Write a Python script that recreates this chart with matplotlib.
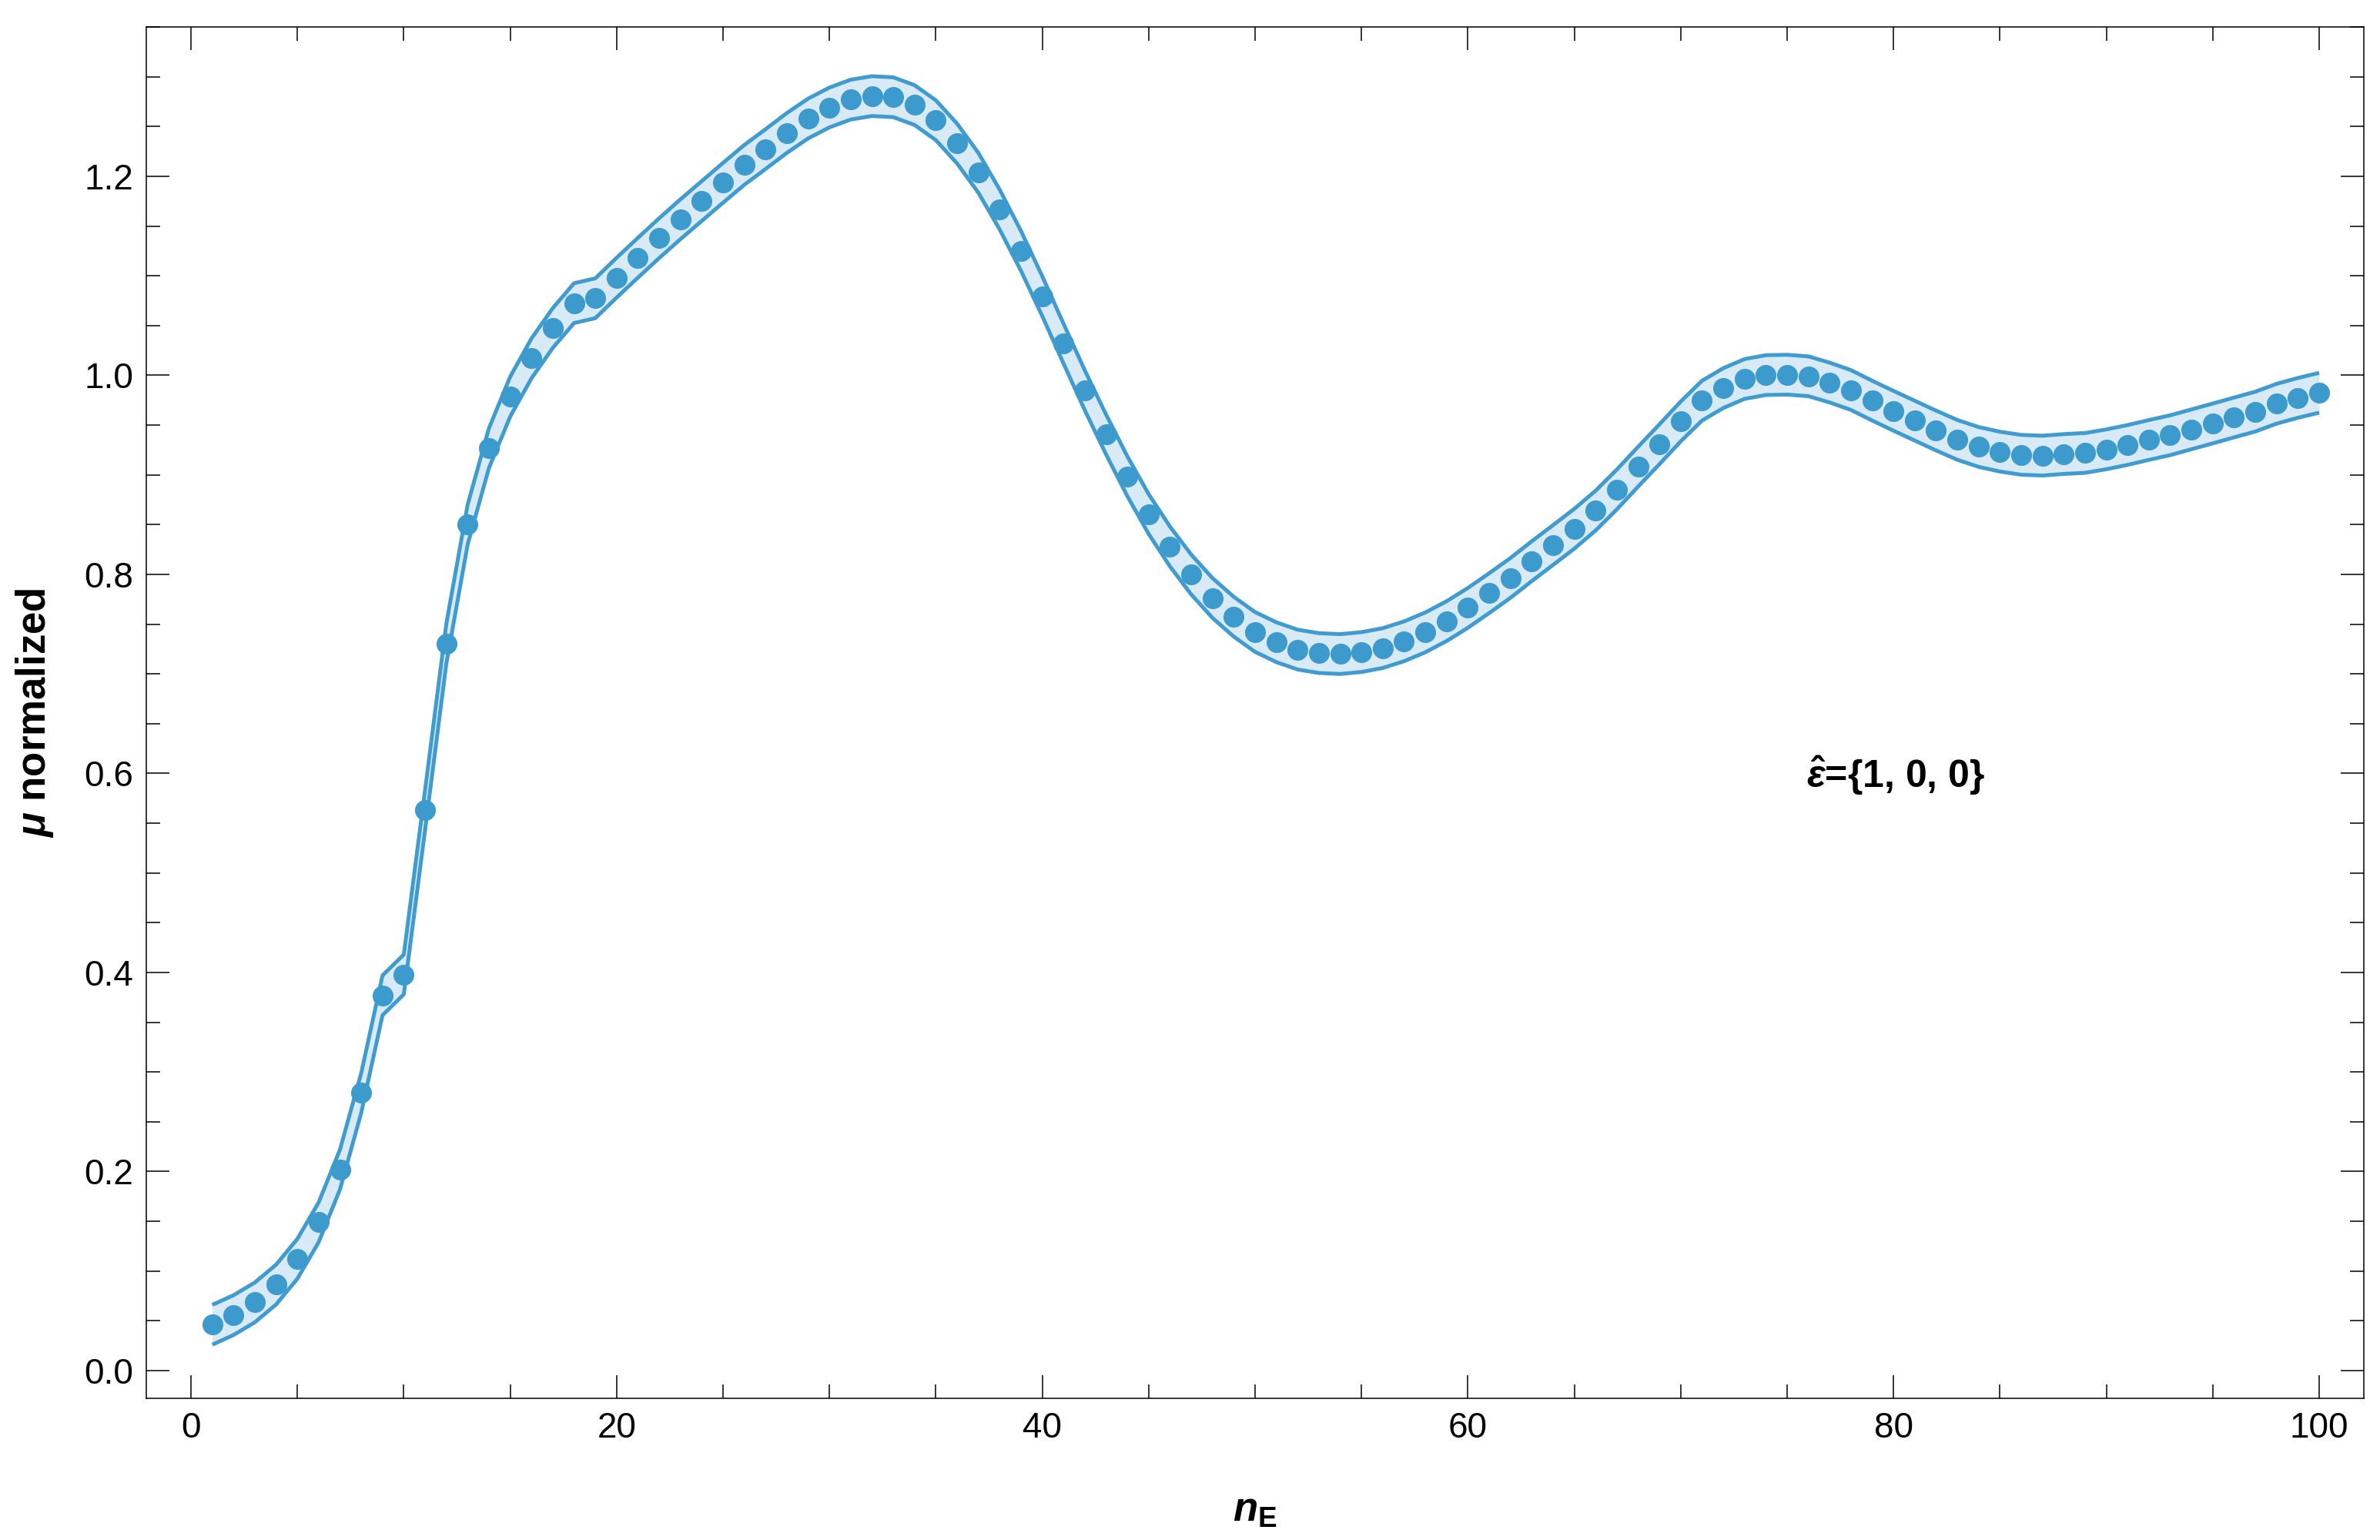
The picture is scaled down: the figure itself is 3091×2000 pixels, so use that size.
import matplotlib
matplotlib.use("Agg")
import matplotlib.pyplot as plt
from matplotlib.ticker import MultipleLocator, FuncFormatter
import numpy as np

plt.rcParams['font.family'] = ['Liberation Sans', 'DejaVu Sans']
plt.rcParams['mathtext.fontset'] = 'custom'
plt.rcParams['mathtext.rm'] = 'Liberation Sans:bold'
plt.rcParams['mathtext.it'] = 'Liberation Sans:bold:italic'
plt.rcParams['mathtext.bf'] = 'Liberation Sans:bold'

# data, n_E = 1..100
n_e = np.arange(1, 101)
mu_norm = [
    0.046, 0.0557, 0.0685, 0.0864, 0.1123, 0.149, 0.202, 0.279, 0.377, 0.398,
    0.5634, 0.7306, 0.850, 0.9268, 0.9786, 1.0170, 1.0475, 1.0725, 1.0774, 1.0981,
    1.1181, 1.1378, 1.1568, 1.1751, 1.1934, 1.2114, 1.2273, 1.2435, 1.258, 1.2691,
    1.277, 1.2805, 1.2794, 1.2715, 1.2563, 1.2328, 1.2034, 1.1665, 1.125, 1.0795,
    1.0318, 0.9849, 0.9405, 0.8985, 0.8606, 0.828, 0.7998, 0.7762, 0.7574, 0.7421,
    0.7318, 0.7244, 0.7209, 0.7199, 0.7219, 0.7259, 0.7327, 0.7417, 0.753, 0.7663,
    0.7811, 0.7964, 0.8132, 0.8294, 0.8458, 0.864, 0.8853, 0.9082, 0.9307, 0.9536,
    0.9745, 0.9871, 0.9963, 1.0002, 1.0006, 0.999, 0.9927, 0.9852, 0.9745, 0.9643,
    0.9544, 0.9445, 0.9351, 0.928, 0.9233, 0.9201, 0.9193, 0.9209, 0.922, 0.9256,
    0.93, 0.935, 0.9398, 0.9457, 0.9516, 0.9576, 0.9635, 0.9714, 0.9773, 0.9824,
]
band_halfwidth = 0.02

mu = np.array(mu_norm)
upper = mu + band_halfwidth
lower = mu - band_halfwidth

dot_color = '#3D9ACD'
line_color = '#3F9BD0'
fill_color = '#D7EAF5'

fig = plt.figure(figsize=(30.91, 20), dpi=100)
ax = fig.add_axes([0.06147, 0.092, 0.93174, 0.8905])

# band (filled) with its two edge lines, then the points on top
ax.fill_between(n_e, lower, upper, color=fill_color, lw=0, zorder=1)
ax.plot(n_e, upper, color=line_color, lw=3.6, solid_capstyle='butt', zorder=2)
ax.plot(n_e, lower, color=line_color, lw=3.6, solid_capstyle='butt', zorder=2)
ax.plot(n_e, mu, 'o', ms=19.5, color=dot_color, mec='none', zorder=3)

ax.set_xlim(-2.1, 102.1)
ax.set_ylim(-0.0279, 1.350)

ax.xaxis.set_major_locator(MultipleLocator(20))
ax.xaxis.set_minor_locator(MultipleLocator(5))
ax.yaxis.set_major_locator(MultipleLocator(0.2))
ax.yaxis.set_minor_locator(MultipleLocator(0.05))
ax.xaxis.set_major_formatter(FuncFormatter(lambda v, p: '%d' % round(v)))
ax.yaxis.set_major_formatter(FuncFormatter(lambda v, p: '%.1f' % v))

ax.tick_params(which='both', direction='in', top=True, right=True,
               width=1.1, color='black')
ax.tick_params(which='major', length=21.5, labelsize=33, pad=12)
ax.tick_params(which='minor', length=13)
for sp in ax.spines.values():
    sp.set_linewidth(1.1)

ax.set_xlabel(r'$n_{\mathrm{E}}$', fontsize=38)
ax.xaxis.label.set_verticalalignment('center')
ax.xaxis.set_label_coords(0.5, -0.082)

ax.set_ylabel(r'$\mu$ normalized', fontsize=38, fontweight='bold')
ax.yaxis.label.set_verticalalignment('center')
ax.yaxis.set_label_coords(-0.0503, 0.5)

ax.text(80.1, 0.598, r'$\hat{\varepsilon}$={1, 0, 0}', fontsize=36,
        fontweight='bold', ha='center', va='center')

fig.savefig('out.png', dpi=100)
